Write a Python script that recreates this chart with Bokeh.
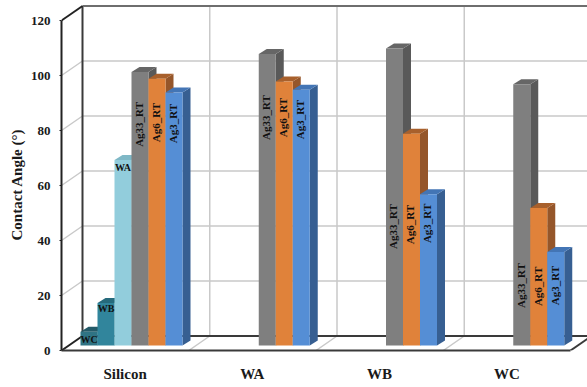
from bokeh.embed import file_html
from bokeh.resources import INLINE
from bokeh.plotting import figure
from bokeh.models import FixedTicker, Range1d, Title
from bokeh.core.properties import value

categories = ["Silicon", "WA", "WB", "WC"]
y_ticks = [0, 20, 40, 60, 80, 100, 120]

# Contact angle per substrate; None where a series has no bar.
series_names = ["WC", "WB", "WA", "Ag33_RT", "Ag6_RT", "Ag3_RT"]
wc_values = [5, None, None, None]
wb_values = [15.5, None, None, None]
wa_values = [67.5, None, None, None]
ag33_values = [99.5, 106, 108, 95]
ag6_values = [97, 96, 77, 50]
ag3_values = [92, 93, 55, 34]
all_values = [wc_values, wb_values, wa_values, ag33_values, ag6_values, ag3_values]

# Height along each bar where its label is centred.
label_heights = [
    [4, None, None, None],
    [15.3, None, None, None],
    [66.5, None, None, None],
    [82.2, 84.7, 45.1, 23.6],
    [82.9, 84.7, 45.8, 23.3],
    [82.5, 84, 46.2, 23.6],
]

front_colors = ["#2f7384", "#31859c", "#92cddc", "#7f7f7f", "#e0823a", "#558ed5"]
side_colors = ["#245a68", "#266a7c", "#74a8b5", "#595959", "#95562a", "#375f92"]
top_colors = ["#245a68", "#266a7c", "#7fb8c6", "#666666", "#a8602c", "#4375b5"]

WIDTH, HEIGHT = 587, 387
LEFT, BOTTOM = 61, 37
PX_Y = 2.75            # pixels per degree
PX_X = 127.25          # pixels per category
BACK_X = 21 / PX_X     # floor depth
BACK_Y = 14.5 / PX_Y
BAR_W = 17 / PX_X
BAR_DX = 8 / PX_X      # depth of a bar
BAR_DY = 5 / PX_Y
BAR_BASE = 5 / PX_Y    # bars stand this far back on the floor
BAR_X0 = 19 / PX_X     # left edge of the first bar in a category

x_end = (WIDTH - LEFT) / PX_X
y_end = (HEIGHT - BOTTOM) / PX_Y
n_cat = len(categories)

p = figure(width=WIDTH, height=HEIGHT, output_backend="svg", toolbar_location=None,
           x_range=Range1d(0, x_end), y_range=Range1d(0, y_end),
           min_border_left=LEFT, min_border_bottom=BOTTOM, min_border_top=0, min_border_right=0,
           background_fill_color="white", border_fill_color="white", outline_line_color=None)
p.grid.visible = False

# Wall gridlines
GRID = "#c9c9c9"
for t in y_ticks[1:-1]:
    p.line([0, BACK_X, n_cat + BACK_X], [t, t + BACK_Y, t + BACK_Y], line_color=GRID, line_width=1.5)
for i in range(1, n_cat):
    p.line([i, i + BACK_X, i + BACK_X], [0, BACK_Y, y_ticks[-1] + BACK_Y], line_color=GRID, line_width=1.5)

# Wall frame
DARK = "#3a3a3a"
p.line([BACK_X, BACK_X], [BACK_Y, y_ticks[-1] + BACK_Y], line_color=DARK, line_width=2)
p.line([BACK_X, n_cat + BACK_X], [y_ticks[-1] + BACK_Y] * 2, line_color="#6e6e6e", line_width=2)
p.line([BACK_X, n_cat + BACK_X], [BACK_Y, BACK_Y], line_color=DARK, line_width=2)
p.line([0, BACK_X], [y_ticks[-1], y_ticks[-1] + BACK_Y], line_color="#222222", line_width=2)
p.line([0, BACK_X], [0, BACK_Y], line_color="#222222", line_width=2)
p.line([n_cat, n_cat + BACK_X], [0, BACK_Y], line_color=DARK, line_width=2)

# Bars, drawn left to right so each one overlaps its neighbour's side
for s, vals in enumerate(all_values):
    for c, v in enumerate(vals):
        if v is None:
            continue
        x0 = c + BAR_X0 + s * BAR_W
        x1 = x0 + BAR_W
        y0 = BAR_BASE
        y1 = BAR_BASE + v
        p.patch([x1, x1 + BAR_DX, x1 + BAR_DX, x1],
                [y0, y0 + BAR_DY, y1 + BAR_DY, y1],
                fill_color=side_colors[s], line_color=None)
        p.patch([x0, x0 + BAR_DX, x1 + BAR_DX, x1],
                [y1, y1 + BAR_DY, y1 + BAR_DY, y1],
                fill_color=top_colors[s], line_color=None)
        p.quad(left=x0, right=x1, bottom=y0, top=y1, fill_color=front_colors[s], line_color=None)

# Labels on the bars
SERIF = value("Liberation Serif")
for s, heights in enumerate(label_heights):
    horizontal = s < 3
    for c, h in enumerate(heights):
        if h is None:
            continue
        xc = c + BAR_X0 + (s + 0.5) * BAR_W + (0 if horizontal else -1.2 / PX_X)
        p.text([xc], [h], text=[series_names[s]], angle=0 if horizontal else 1.5708,
               text_align="center", text_baseline="middle", text_font=SERIF,
               text_font_style="bold", text_font_size="10px" if horizontal else "11px",
               text_color="#111111")

# Front axes
yax = p.yaxis[0]
yax.ticker = FixedTicker(ticks=y_ticks)
yax.bounds = (y_ticks[0], y_ticks[-1])
yax.axis_line_color = "#222222"
yax.axis_line_width = 2
yax.major_tick_line_color = "#222222"
yax.major_tick_line_width = 1
yax.major_tick_in = 0
yax.major_tick_out = 2
yax.minor_tick_line_color = None
yax.major_label_text_font = "Liberation Serif"
yax.major_label_text_font_style = "bold"
yax.major_label_text_font_size = "13px"
yax.major_label_text_color = "#1a1a1a"
yax.major_label_standoff = 9

# Value-axis title, anchored from the bottom of the frame so it can sit below centre
p.add_layout(Title(text="Contact Angle (°)", align="left", offset=110, standoff=6,
                   text_font="Liberation Serif", text_font_style="bold",
                   text_font_size="15px", text_color="#1a1a1a"), "left")

xax = p.xaxis[0]
xax.ticker = FixedTicker(ticks=[i + 0.5 for i in range(n_cat)])
xax.major_label_overrides = {i + 0.5: name for i, name in enumerate(categories)}
xax.bounds = (0, n_cat)
xax.axis_line_color = DARK
xax.axis_line_width = 2
xax.major_tick_line_color = None
xax.minor_tick_line_color = None
xax.major_label_text_font = "Liberation Serif"
xax.major_label_text_font_style = "bold"
xax.major_label_text_font_size = "15px"
xax.major_label_text_color = "#1a1a1a"
xax.major_label_standoff = 9

open("out.html", "w").write(file_html(p, INLINE))
